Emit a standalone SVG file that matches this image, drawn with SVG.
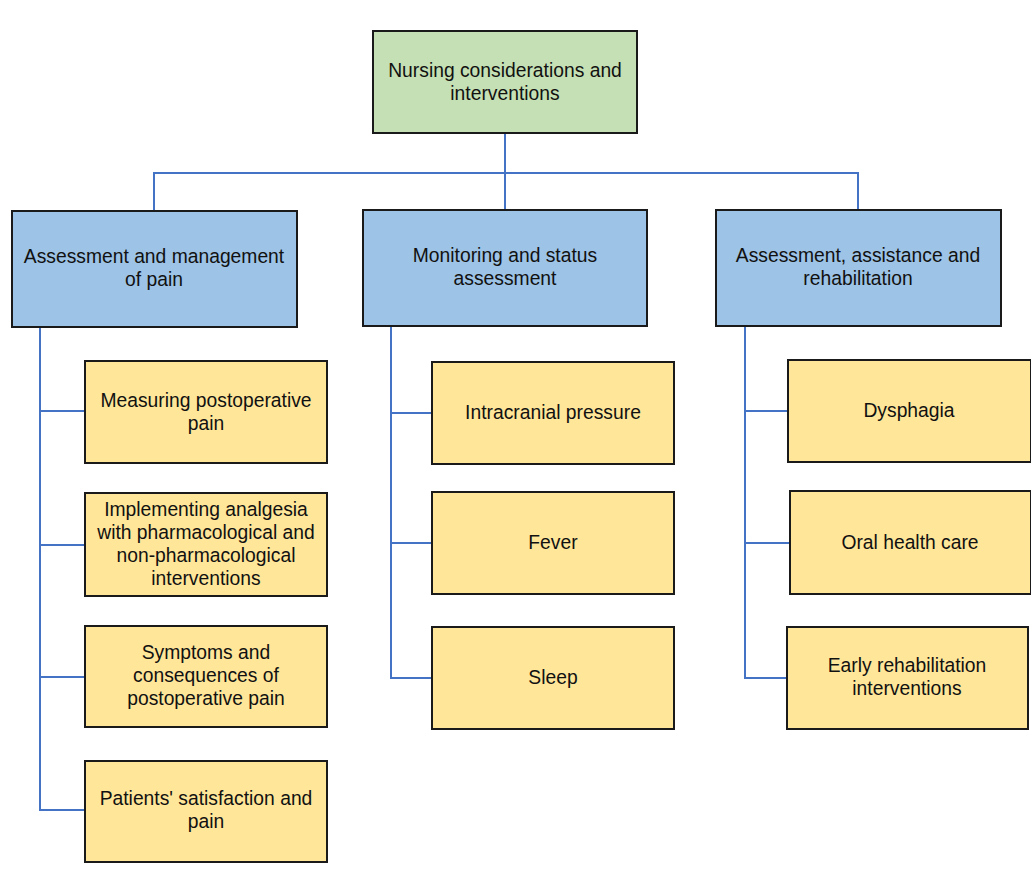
<svg xmlns="http://www.w3.org/2000/svg" width="1031" height="886" viewBox="0 0 1031 886">
<style>
.b{stroke:#1a1a1a;stroke-width:2}
.g{fill:#c5e0b4}.bl{fill:#9dc3e6}.y{fill:#ffe699}
text{font-family:"Liberation Sans",Arial,sans-serif;font-size:19.3px;fill:#111;text-anchor:middle}
.c{fill:none;stroke:#4472c4;stroke-width:2}
</style>
<rect width="1031" height="886" fill="#fff"/>
<g id="connectors">
<path class="c" d="M505 133V210M154 211V173H858V210"/>
<path class="c" d="M40 327V810H85M40 411H85M40 545H85M40 677H85"/>
<path class="c" d="M391 326V678H432M391 413H432M391 543H432"/>
<path class="c" d="M745 326V678H787M745 411H788M745 543H790"/>
</g>
<g id="root"><rect class="b g" x="373" y="31" width="264" height="102"/><text x="505" y="77">Nursing considerations and</text><text x="505" y="100">interventions</text></g>
<g id="pain"><rect class="b bl" x="12" y="211" width="285" height="116"/><text x="154" y="263">Assessment and management</text><text x="154" y="286">of pain</text></g>
<g id="monitoring"><rect class="b bl" x="363" y="210" width="284" height="116"/><text x="505" y="262">Monitoring and status</text><text x="505" y="285">assessment</text></g>
<g id="rehab"><rect class="b bl" x="716" y="210" width="285" height="116"/><text x="858" y="262">Assessment, assistance and</text><text x="858" y="285">rehabilitation</text></g>
<g id="measuring"><rect class="b y" x="85" y="361" width="242" height="102"/><text x="206" y="407">Measuring postoperative</text><text x="206" y="430">pain</text></g>
<g id="analgesia"><rect class="b y" x="85" y="493" width="242" height="103"/><text x="206" y="516">Implementing analgesia</text><text x="206" y="539">with pharmacological and</text><text x="206" y="562">non-pharmacological</text><text x="206" y="585">interventions</text></g>
<g id="symptoms"><rect class="b y" x="85" y="626" width="242" height="101"/><text x="206" y="659">Symptoms and</text><text x="206" y="682">consequences of</text><text x="206" y="705">postoperative pain</text></g>
<g id="satisfaction"><rect class="b y" x="85" y="761" width="242" height="101"/><text x="206" y="805">Patients' satisfaction and</text><text x="206" y="828">pain</text></g>
<g id="icp"><rect class="b y" x="432" y="362" width="242" height="102"/><text x="553" y="419">Intracranial pressure</text></g>
<g id="fever"><rect class="b y" x="432" y="492" width="242" height="102"/><text x="553" y="549">Fever</text></g>
<g id="sleep"><rect class="b y" x="432" y="627" width="242" height="102"/><text x="553" y="684">Sleep</text></g>
<g id="dysphagia"><rect class="b y" x="788" y="360" width="243" height="102"/><text x="909" y="417">Dysphagia</text></g>
<g id="oral"><rect class="b y" x="790" y="491" width="241" height="103"/><text x="910" y="549">Oral health care</text></g>
<g id="early"><rect class="b y" x="787" y="627" width="241" height="102"/><text x="907" y="672">Early rehabilitation</text><text x="907" y="695">interventions</text></g>
</svg>
